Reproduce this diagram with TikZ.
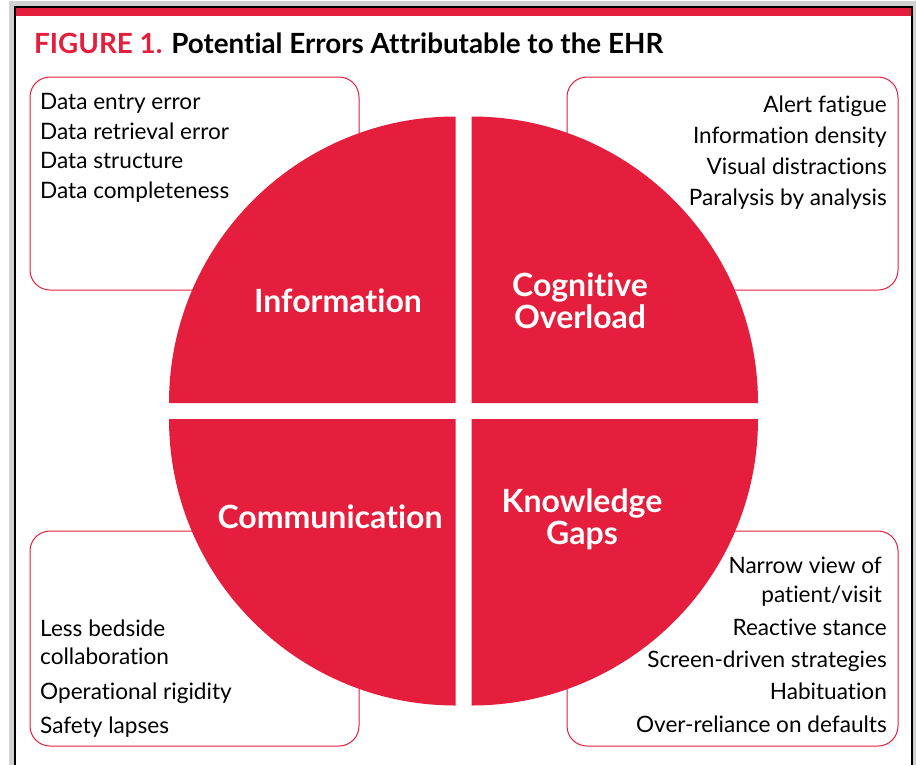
\documentclass[tikz,border=0pt]{standalone}
\usepackage{fontspec}
\setmainfont{Lato}[Ligatures=NoCommon]
\definecolor{ehrred}{HTML}{E41E3C}
\tikzset{
  listbox/.style={draw=ehrred, line width=1pt, rounded corners=20pt, fill=white},
  quarter/.style={fill=ehrred},
  item/.style={font=\fontsize{22.6}{26}\selectfont, inner sep=0pt},
  topic/.style={font=\fontsize{32}{32}\selectfont\bfseries, text=white, align=center, inner sep=0pt},
  title/.style={font=\fontsize{27.8}{30}\selectfont\bfseries, inner sep=0pt}
}
\begin{document}
\begin{tikzpicture}[x=1pt,y=-1pt]
  \useasboundingbox (0,0) rectangle (916,764);
  \clip (0,0) rectangle (916,764);
  \fill[black!18] (9,1) rectangle (916,780);
  \filldraw[fill=white, draw=black, line width=1.2pt] (15,7) rectangle (912,790);
  \fill[ehrred] (15.6,7.6) rectangle (911.4,16);
  \node[title, anchor=base west] (title) at (34,53)
    {\textcolor{ehrred}{FIGURE 1.} Potential Errors Attributable to the EHR};

  \draw[listbox] (30,77) rectangle (359,290);
  \draw[listbox] (567,77) rectangle (898,290);
  \draw[listbox] (30,531) rectangle (359,746);
  \draw[listbox] (567,531) rectangle (898,746);

  \foreach \sx/\sy/\a in {1/-1/0, -1/-1/-90, -1/1/180, 1/1/90}
    \fill[quarter] (463.5+\sx*8, 411+\sy*8) -- ++(\a:286.5)
      arc[start angle=\a, delta angle=-90, radius=286.5] -- cycle;

  \node[topic, anchor=base] (info) at (338,312) {Information};
  \node[topic, anchor=base] (cogn) at (580,328) {Cognitive\\Overload};
  \node[topic, anchor=base] (comm) at (330,528) {Communication};
  \node[topic, anchor=base] (know) at (582,544) {Knowledge\\Gaps};

  \foreach \t/\y [count=\i] in {Data entry error/109, Data retrieval error/139,
      Data structure/168, Data completeness/198}
    \node[item, anchor=base west] (info-\i) at (40,\y) {\t};
  \foreach \t/\y [count=\i] in {Alert fatigue/112, Information density/143,
      Visual distractions/174, Paralysis by analysis/205}
    \node[item, anchor=base east] (cogn-\i) at (887,\y) {\t};
  \foreach \t/\y [count=\i] in {Less bedside/636, collaboration/664,
      Operational rigidity/699, Safety lapses/733}
    \node[item, anchor=base west] (comm-\i) at (40,\y) {\t};
  \foreach \t/\y/\x [count=\i] in {Narrow view of/573/882, {patient/visit}/602/882,
      Reactive stance/635/887, Screen-driven strategies/667/887,
      Habituation/699/887, Over-reliance on defaults/732/887}
    \node[item, anchor=base east] (know-\i) at (\x,\y) {\t};
\end{tikzpicture}
\end{document}
